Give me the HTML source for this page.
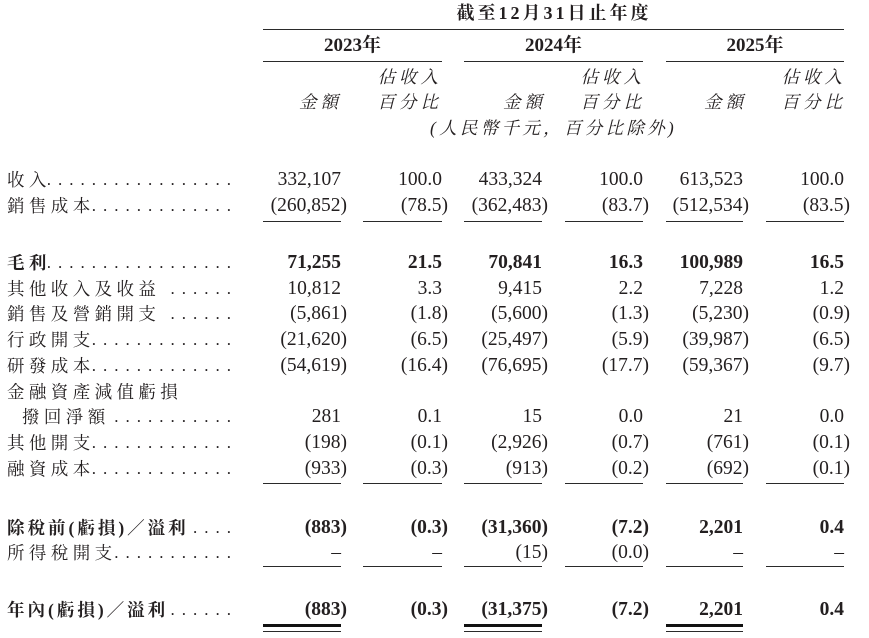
<!DOCTYPE html>
<html><head><meta charset="utf-8">
<style>
html,body{margin:0;padding:0;background:#fff;}
body{width:869px;height:638px;position:relative;overflow:hidden;color:#231f20;
font-family:"Liberation Serif","Noto Serif CJK SC","Noto Serif CJK TC",serif;}
.a{position:absolute;white-space:nowrap;}
.ln{position:absolute;background:#2a2a2a;height:1.3px;}
.hd{position:absolute;white-space:nowrap;font-size:17.5px;letter-spacing:4px;font-style:italic;line-height:24px;height:24px;}
.row{position:absolute;left:0;width:869px;height:26px;line-height:26px;}
.lab{position:absolute;left:7px;width:231px;display:flex;font-size:17.5px;line-height:26px;}
.lab .t{letter-spacing:4.4px;white-space:nowrap;flex:none;margin-right:-3px;}
.lab .d{flex:1 1 auto;overflow:hidden;display:flex;justify-content:flex-end;letter-spacing:7px;font-size:17px;white-space:nowrap;}
.lab .d span{flex:none;}
.v{position:absolute;font-size:19.5px;white-space:nowrap;top:0;}
.b .v,.b .t{font-weight:bold;}
.b .t.n{letter-spacing:3px;}
.c1{right:528px}.c1.p{right:522px}
.c2{right:427px}.c2.p{right:421px}
.c3{right:327px}.c3.p{right:321px}
.c4{right:226px}.c4.p{right:220px}
.c5{right:126px}.c5.p{right:120px}
.c6{right:25px}.c6.p{right:19px}
</style></head><body>

<!-- header -->
<div class="a" style="left:354px;width:400px;text-align:center;top:0;line-height:26px;font-size:18px;font-weight:bold;letter-spacing:3px;">截至12月31日止年度</div>
<div class="ln" style="left:263px;width:581px;top:28.5px;"></div>

<div class="a" style="left:263px;width:179px;text-align:center;top:33px;line-height:26px;font-size:19px;font-weight:bold;">2023年</div>
<div class="a" style="left:464px;width:179px;text-align:center;top:33px;line-height:26px;font-size:19px;font-weight:bold;">2024年</div>
<div class="a" style="left:666px;width:178px;text-align:center;top:33px;line-height:26px;font-size:19px;font-weight:bold;">2025年</div>
<div class="ln" style="left:263px;width:179px;top:60.5px;height:1.6px;"></div>
<div class="ln" style="left:464px;width:179px;top:60.5px;height:1.6px;"></div>
<div class="ln" style="left:666px;width:178px;top:60.5px;height:1.6px;"></div>

<div class="hd" style="right:427px;top:65px;">佔收入</div>
<div class="hd" style="right:427px;top:90px;">百分比</div>
<div class="hd" style="right:527px;top:90px;">金額</div>
<div class="hd" style="right:224px;top:65px;">佔收入</div>
<div class="hd" style="right:224px;top:90px;">百分比</div>
<div class="hd" style="right:323px;top:90px;">金額</div>
<div class="hd" style="right:23px;top:65px;">佔收入</div>
<div class="hd" style="right:23px;top:90px;">百分比</div>
<div class="hd" style="right:122px;top:90px;">金額</div>
<div class="hd" style="left:430px;top:116px;letter-spacing:3.3px;">(人民幣千元，百分比除外)</div>

<!-- rows -->
<div class="row" style="top:167px;">
<div class="lab"><span class="t">收入</span><span class="d"><span>......................................</span></span></div>
<span class="v c1">332,107</span><span class="v c2">100.0</span><span class="v c3">433,324</span><span class="v c4">100.0</span><span class="v c5">613,523</span><span class="v c6">100.0</span>
</div>
<div class="row" style="top:193px;">
<div class="lab"><span class="t">銷售成本</span><span class="d"><span>......................................</span></span></div>
<span class="v c1 p">(260,852)</span><span class="v c2 p">(78.5)</span><span class="v c3 p">(362,483)</span><span class="v c4 p">(83.7)</span><span class="v c5 p">(512,534)</span><span class="v c6 p">(83.5)</span>
</div>
<div class="ln" style="left:263px;width:78px;top:221px;"></div>
<div class="ln" style="left:363px;width:79px;top:221px;"></div>
<div class="ln" style="left:464px;width:78px;top:221px;"></div>
<div class="ln" style="left:565px;width:78px;top:221px;"></div>
<div class="ln" style="left:666px;width:77px;top:221px;"></div>
<div class="ln" style="left:766px;width:78px;top:221px;"></div>

<div class="row b" style="top:250px;">
<div class="lab"><span class="t">毛利</span><span class="d" style="font-weight:normal;"><span>......................................</span></span></div>
<span class="v c1">71,255</span><span class="v c2">21.5</span><span class="v c3">70,841</span><span class="v c4">16.3</span><span class="v c5">100,989</span><span class="v c6">16.5</span>
</div>
<div class="row" style="top:276px;">
<div class="lab"><span class="t" style="margin-right:6px;">其他收入及收益</span><span class="d"><span>......................................</span></span></div>
<span class="v c1">10,812</span><span class="v c2">3.3</span><span class="v c3">9,415</span><span class="v c4">2.2</span><span class="v c5">7,228</span><span class="v c6">1.2</span>
</div>
<div class="row" style="top:301px;">
<div class="lab"><span class="t" style="margin-right:6px;">銷售及營銷開支</span><span class="d"><span>......................................</span></span></div>
<span class="v c1 p">(5,861)</span><span class="v c2 p">(1.8)</span><span class="v c3 p">(5,600)</span><span class="v c4 p">(1.3)</span><span class="v c5 p">(5,230)</span><span class="v c6 p">(0.9)</span>
</div>
<div class="row" style="top:327px;">
<div class="lab"><span class="t">行政開支</span><span class="d"><span>......................................</span></span></div>
<span class="v c1 p">(21,620)</span><span class="v c2 p">(6.5)</span><span class="v c3 p">(25,497)</span><span class="v c4 p">(5.9)</span><span class="v c5 p">(39,987)</span><span class="v c6 p">(6.5)</span>
</div>
<div class="row" style="top:353px;">
<div class="lab"><span class="t">研發成本</span><span class="d"><span>......................................</span></span></div>
<span class="v c1 p">(54,619)</span><span class="v c2 p">(16.4)</span><span class="v c3 p">(76,695)</span><span class="v c4 p">(17.7)</span><span class="v c5 p">(59,367)</span><span class="v c6 p">(9.7)</span>
</div>
<div class="row" style="top:379px;">
<div class="lab"><span class="t">金融資產減值虧損</span></div>
</div>
<div class="row" style="top:404px;">
<div class="lab" style="left:22px;width:216px;"><span class="t">撥回淨額</span><span class="d"><span>......................................</span></span></div>
<span class="v c1">281</span><span class="v c2">0.1</span><span class="v c3">15</span><span class="v c4">0.0</span><span class="v c5">21</span><span class="v c6">0.0</span>
</div>
<div class="row" style="top:430px;">
<div class="lab"><span class="t">其他開支</span><span class="d"><span>......................................</span></span></div>
<span class="v c1 p">(198)</span><span class="v c2 p">(0.1)</span><span class="v c3 p">(2,926)</span><span class="v c4 p">(0.7)</span><span class="v c5 p">(761)</span><span class="v c6 p">(0.1)</span>
</div>
<div class="row" style="top:456px;">
<div class="lab"><span class="t">融資成本</span><span class="d"><span>......................................</span></span></div>
<span class="v c1 p">(933)</span><span class="v c2 p">(0.3)</span><span class="v c3 p">(913)</span><span class="v c4 p">(0.2)</span><span class="v c5 p">(692)</span><span class="v c6 p">(0.1)</span>
</div>
<div class="ln" style="left:263px;width:78px;top:482.5px;"></div>
<div class="ln" style="left:363px;width:79px;top:482.5px;"></div>
<div class="ln" style="left:464px;width:78px;top:482.5px;"></div>
<div class="ln" style="left:565px;width:78px;top:482.5px;"></div>
<div class="ln" style="left:666px;width:77px;top:482.5px;"></div>
<div class="ln" style="left:766px;width:78px;top:482.5px;"></div>

<div class="row b" style="top:515px;">
<div class="lab"><span class="t n">除稅前(虧損)／溢利</span><span class="d" style="font-weight:normal;"><span>......................................</span></span></div>
<span class="v c1 p">(883)</span><span class="v c2 p">(0.3)</span><span class="v c3 p">(31,360)</span><span class="v c4 p">(7.2)</span><span class="v c5">2,201</span><span class="v c6">0.4</span>
</div>
<div class="row" style="top:540px;">
<div class="lab"><span class="t">所得稅開支</span><span class="d"><span>......................................</span></span></div>
<span class="v c1">–</span><span class="v c2">–</span><span class="v c3 p">(15)</span><span class="v c4 p">(0.0)</span><span class="v c5">–</span><span class="v c6">–</span>
</div>
<div class="ln" style="left:263px;width:78px;top:565.5px;"></div>
<div class="ln" style="left:363px;width:79px;top:565.5px;"></div>
<div class="ln" style="left:464px;width:78px;top:565.5px;"></div>
<div class="ln" style="left:565px;width:78px;top:565.5px;"></div>
<div class="ln" style="left:666px;width:77px;top:565.5px;"></div>
<div class="ln" style="left:766px;width:78px;top:565.5px;"></div>

<div class="row b" style="top:597px;">
<div class="lab"><span class="t n">年內(虧損)／溢利</span><span class="d" style="font-weight:normal;"><span>......................................</span></span></div>
<span class="v c1 p">(883)</span><span class="v c2 p">(0.3)</span><span class="v c3 p">(31,375)</span><span class="v c4 p">(7.2)</span><span class="v c5">2,201</span><span class="v c6">0.4</span>
</div>
<div class="ln" style="left:263px;width:78px;top:623.5px;height:3.3px;background:#111;"></div>
<div class="ln" style="left:263px;width:78px;top:631px;height:1.4px;"></div>
<div class="ln" style="left:464px;width:78px;top:623.5px;height:3.3px;background:#111;"></div>
<div class="ln" style="left:464px;width:78px;top:631px;height:1.4px;"></div>
<div class="ln" style="left:666px;width:77px;top:623.5px;height:3.3px;background:#111;"></div>
<div class="ln" style="left:666px;width:77px;top:631px;height:1.4px;"></div>

</body></html>
